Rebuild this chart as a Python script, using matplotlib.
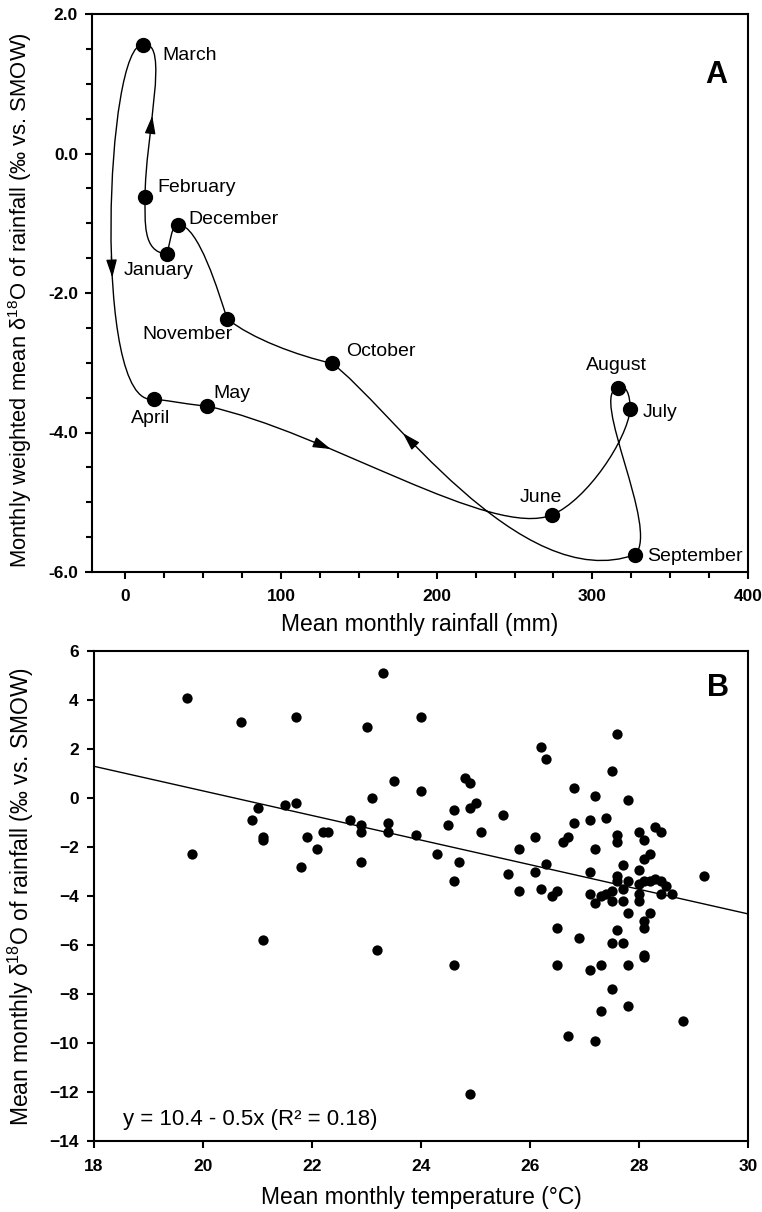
import numpy as np
import matplotlib
matplotlib.use('Agg')
import matplotlib.pyplot as plt
from matplotlib.path import Path
from matplotlib.patches import PathPatch
from matplotlib.ticker import MultipleLocator, FormatStrFormatter

plt.rcParams['font.family'] = ['Liberation Sans', 'DejaVu Sans']
plt.rcParams['mathtext.fontset'] = 'custom'
plt.rcParams['mathtext.rm'] = 'Liberation Sans'
plt.rcParams['mathtext.it'] = 'Liberation Sans:italic'
plt.rcParams['mathtext.bf'] = 'Liberation Sans:bold'

# ---------------- Panel A data ----------------
months = ['January', 'February', 'March', 'April', 'May', 'June',
          'July', 'August', 'September', 'October', 'November', 'December']
rainfall_mm = [26.4, 12.6, 11.5, 18.1, 52.1, 274.2, 324.3, 316.6, 327.5, 132.8, 65.3, 34.0]
d18o_weighted = [-1.44, -0.62, 1.56, -3.52, -3.62, -5.18, -3.67, -3.36, -5.75, -3.01, -2.37, -1.02]

# ---------------- Panel B data ----------------
temperature_c = [19.7, 20.7, 21.7, 23.3, 23.0, 24.0, 21.0, 21.5, 21.7, 20.9,
                 21.1, 21.1, 21.9, 19.8, 21.8, 23.5, 23.1, 24.0, 24.8, 24.9,
                 24.6, 24.9, 25.0, 25.5, 22.7, 22.9, 22.9, 23.4, 23.4, 22.2,
                 22.3, 22.1, 23.9, 24.5, 25.1, 24.3, 24.7, 22.9, 24.6, 25.6,
                 25.8, 25.8, 27.6, 26.2, 26.3, 27.5, 26.8, 27.2, 27.8, 26.8,
                 27.1, 27.4, 26.1, 26.7, 27.6, 28.0, 28.3, 28.4, 27.6, 28.1,
                 28.2, 28.1, 27.7, 28.0, 27.6, 29.2, 27.3, 27.4, 27.5, 27.6,
                 27.7, 27.8, 27.5, 27.7, 28.0, 28.0, 28.0, 28.1, 28.2, 28.3,
                 28.4, 28.4, 28.5, 28.6, 27.8, 28.2, 28.1, 28.1, 27.6, 27.5,
                 27.7, 28.1, 21.1, 23.2, 24.6, 24.9, 26.5, 26.5, 26.7, 26.9,
                 27.1, 27.2, 27.3, 27.3, 27.5, 27.8, 27.8, 28.1, 28.8, 26.2,
                 26.4, 26.5, 27.1, 27.2, 27.2, 26.3, 26.1, 27.1, 26.6]
d18o_monthly = [4.1, 3.1, 3.3, 5.1, 2.9, 3.3, -0.4, -0.3, -0.2, -0.9,
                -1.6, -1.7, -1.6, -2.3, -2.8, 0.7, 0.0, 0.3, 0.8, 0.6,
                -0.5, -0.4, -0.2, -0.7, -0.9, -1.1, -1.4, -1.0, -1.4, -1.4,
                -1.4, -2.1, -1.5, -1.1, -1.4, -2.3, -2.6, -2.6, -3.4, -3.1,
                -2.1, -3.8, 2.6, 2.1, 1.6, 1.1, 0.4, 0.1, -0.1, -1.0,
                -0.9, -0.8, -1.6, -1.6, -1.5, -1.4, -1.2, -1.4, -1.8, -1.7,
                -2.3, -2.5, -2.75, -2.95, -3.2, -3.2, -4.0, -3.9, -3.8, -3.4,
                -3.7, -3.4, -4.2, -4.2, -3.5, -3.9, -4.2, -3.4, -3.4, -3.3,
                -3.4, -3.9, -3.6, -3.9, -4.7, -4.7, -5.0, -5.3, -5.4, -5.9,
                -5.9, -6.4, -5.8, -6.2, -6.8, -12.1, -5.3, -6.8, -9.7, -5.7,
                -7.0, -9.9, -6.8, -8.7, -7.8, -6.8, -8.5, -6.5, -9.1, -3.7,
                -4.0, -3.8, -3.9, -4.3, -2.1, -2.7, -3.0, -3.0, -1.8]
line_intercept = 10.33
line_slope = -0.502
equation_text = 'y = 10.4 - 0.5x (R\u00b2 = 0.18)'

# ---------------- styling ----------------
label_offsets_px = {  # (dx right, dy down, ha)
    'January': (-8, 17, 'center'), 'February': (12, -9, 'left'),
    'March': (19, 11, 'left'), 'April': (-3, 19, 'center'),
    'May': (7, -12, 'left'), 'June': (-11, -17, 'center'),
    'July': (13, 3, 'left'), 'August': (-2, -22, 'center'),
    'September': (12, 2, 'left'), 'October': (14, -12, 'left'),
    'November': (-40, 16, 'center'), 'December': (10, -5, 'left'),
}
# hand-drawn connector shape: Bezier handles per month in pixels (dx right, dy down)
handle_in_px = {
    'January': (5, -14), 'February': (0, 25), 'March': (27, -5), 'April': (-62, 11),
    'May': (-15, -1), 'June': (-60, 25), 'July': (-3, 30), 'August': (8, -4),
    'September': (25, -25), 'October': (55, 40), 'November': (25, 20), 'December': (20, 0),
}
handle_out_px = {
    'January': (-24, -2), 'February': (0, -60), 'March': (-38, -5), 'April': (18, 2),
    'May': (120, 26), 'June': (35, -15), 'July': (0, -15), 'August': (-30, 5),
    'September': (-115, 42), 'October': (-35, -8), 'November': (-8, -25), 'December': (-8, 2),
}
arrow_positions = [(1, 0.40), (2, 0.60), (4, 0.32), (8, 0.69)]

fig = plt.figure(figsize=(7.62, 12.12), dpi=100)
W, H = 762.0, 1212.0
axA = fig.add_axes([92 / W, 1 - 572 / H, 656 / W, 558 / H])
axB = fig.add_axes([94 / W, 1 - 1141 / H, 654 / W, 490 / H])

for ax in (axA, axB):
    for s in ax.spines.values():
        s.set_linewidth(1.5)

# ---------------- Panel A ----------------
axA.set_xlim(-21.5, 400)
axA.set_ylim(-6, 2)

to_disp = axA.transData
to_data = axA.transData.inverted()
pts_disp = to_disp.transform(np.column_stack([rainfall_mm, d18o_weighted]))
n = len(months)


def flip(v):
    return np.array([v[0], -v[1]], dtype=float)


segments = []
for i in range(n):
    j = (i + 1) % n
    p0 = pts_disp[i]
    c1 = p0 + flip(handle_out_px[months[i]])
    p1 = pts_disp[j]
    c2 = p1 + flip(handle_in_px[months[j]])
    segments.append((p0, c1, c2, p1))

verts = [to_data.transform(segments[0][0])]
codes = [Path.MOVETO]
for p0, c1, c2, p1 in segments:
    verts += list(to_data.transform(np.array([c1, c2, p1])))
    codes += [Path.CURVE4] * 3
axA.add_patch(PathPatch(Path(verts, codes), facecolor='none', edgecolor='black', lw=1.0, zorder=2))


def bez(seg, t):
    p0, c1, c2, p1 = seg
    return ((1 - t) ** 3) * p0 + 3 * ((1 - t) ** 2) * t * c1 + 3 * (1 - t) * t ** 2 * c2 + t ** 3 * p1


for si, t in arrow_positions:
    head = to_data.transform(bez(segments[si], t))
    tail = to_data.transform(bez(segments[si], t - 0.04))
    axA.annotate('', xy=head, xytext=tail,
                 arrowprops=dict(arrowstyle='-|>,head_length=1.1,head_width=0.33',
                                 color='black', lw=0.9, shrinkA=0, shrinkB=0))

axA.plot(rainfall_mm, d18o_weighted, 'o', color='black', markersize=10, zorder=3)
for m, x, y in zip(months, rainfall_mm, d18o_weighted):
    dx, dy, ha = label_offsets_px[m]
    axA.annotate(m, (x, y), xytext=(dx * 0.72, -dy * 0.72), textcoords='offset points',
                 ha=ha, va='center', fontsize=14)

axA.xaxis.set_major_locator(MultipleLocator(100))
axA.xaxis.set_minor_locator(MultipleLocator(25))
axA.yaxis.set_major_locator(MultipleLocator(2))
axA.yaxis.set_minor_locator(MultipleLocator(0.5))
axA.yaxis.set_major_formatter(FormatStrFormatter('%.1f'))
axA.tick_params(which='both', direction='out', width=1.5)
axA.tick_params(which='major', length=5)
axA.tick_params(which='minor', length=4)
axA.tick_params(axis='x', which='both', pad=7)
axA.tick_params(axis='y', which='both', pad=5)
for lab in axA.get_xticklabels() + axA.get_yticklabels():
    lab.set_fontweight('bold')
    lab.set_fontsize(12.5)
axA.set_xlabel('Mean monthly rainfall (mm)', fontsize=16.5)
axA.set_ylabel('Monthly weighted mean δ$^{\\mathregular{18}}$O of rainfall (‰ vs. SMOW)', fontsize=15.8)
axA.xaxis.set_label_coords(0.5, -0.074)
axA.yaxis.set_label_coords(-0.088, 0.487)
axA.text(0.951, 0.89, 'A', transform=axA.transAxes, fontsize=22, fontweight='bold',
         ha='center', va='center')

# ---------------- Panel B ----------------
axB.set_xlim(18, 30)
axB.set_ylim(-14, 6)
axB.scatter(temperature_c, d18o_monthly, s=55, color='black', linewidths=0, zorder=3)
xl = np.array(axB.get_xlim())
axB.plot(xl, line_intercept + line_slope * xl, color='black', lw=1.0, zorder=2)
axB.xaxis.set_major_locator(MultipleLocator(2))
axB.yaxis.set_major_locator(MultipleLocator(2))
axB.tick_params(which='both', direction='out', width=1.5, length=5)
axB.tick_params(axis='x', pad=8)
axB.tick_params(axis='y', pad=6)
for lab in axB.get_xticklabels() + axB.get_yticklabels():
    lab.set_fontweight('bold')
    lab.set_fontsize(12.5)
axB.set_xlabel('Mean monthly temperature (°C)', fontsize=16.5)
axB.set_ylabel('Mean monthly δ$^{\\mathregular{18}}$O of rainfall (‰ vs. SMOW)', fontsize=16.5)
axB.xaxis.set_label_coords(0.5, -0.092)
axB.yaxis.set_label_coords(-0.089, 0.5)
axB.text(0.954, 0.924, 'B', transform=axB.transAxes, fontsize=22, fontweight='bold',
         ha='center', va='center')
axB.text(0.044, 0.043, equation_text, transform=axB.transAxes, fontsize=16,
         ha='left', va='center')

fig.savefig('out.png', dpi=100)
